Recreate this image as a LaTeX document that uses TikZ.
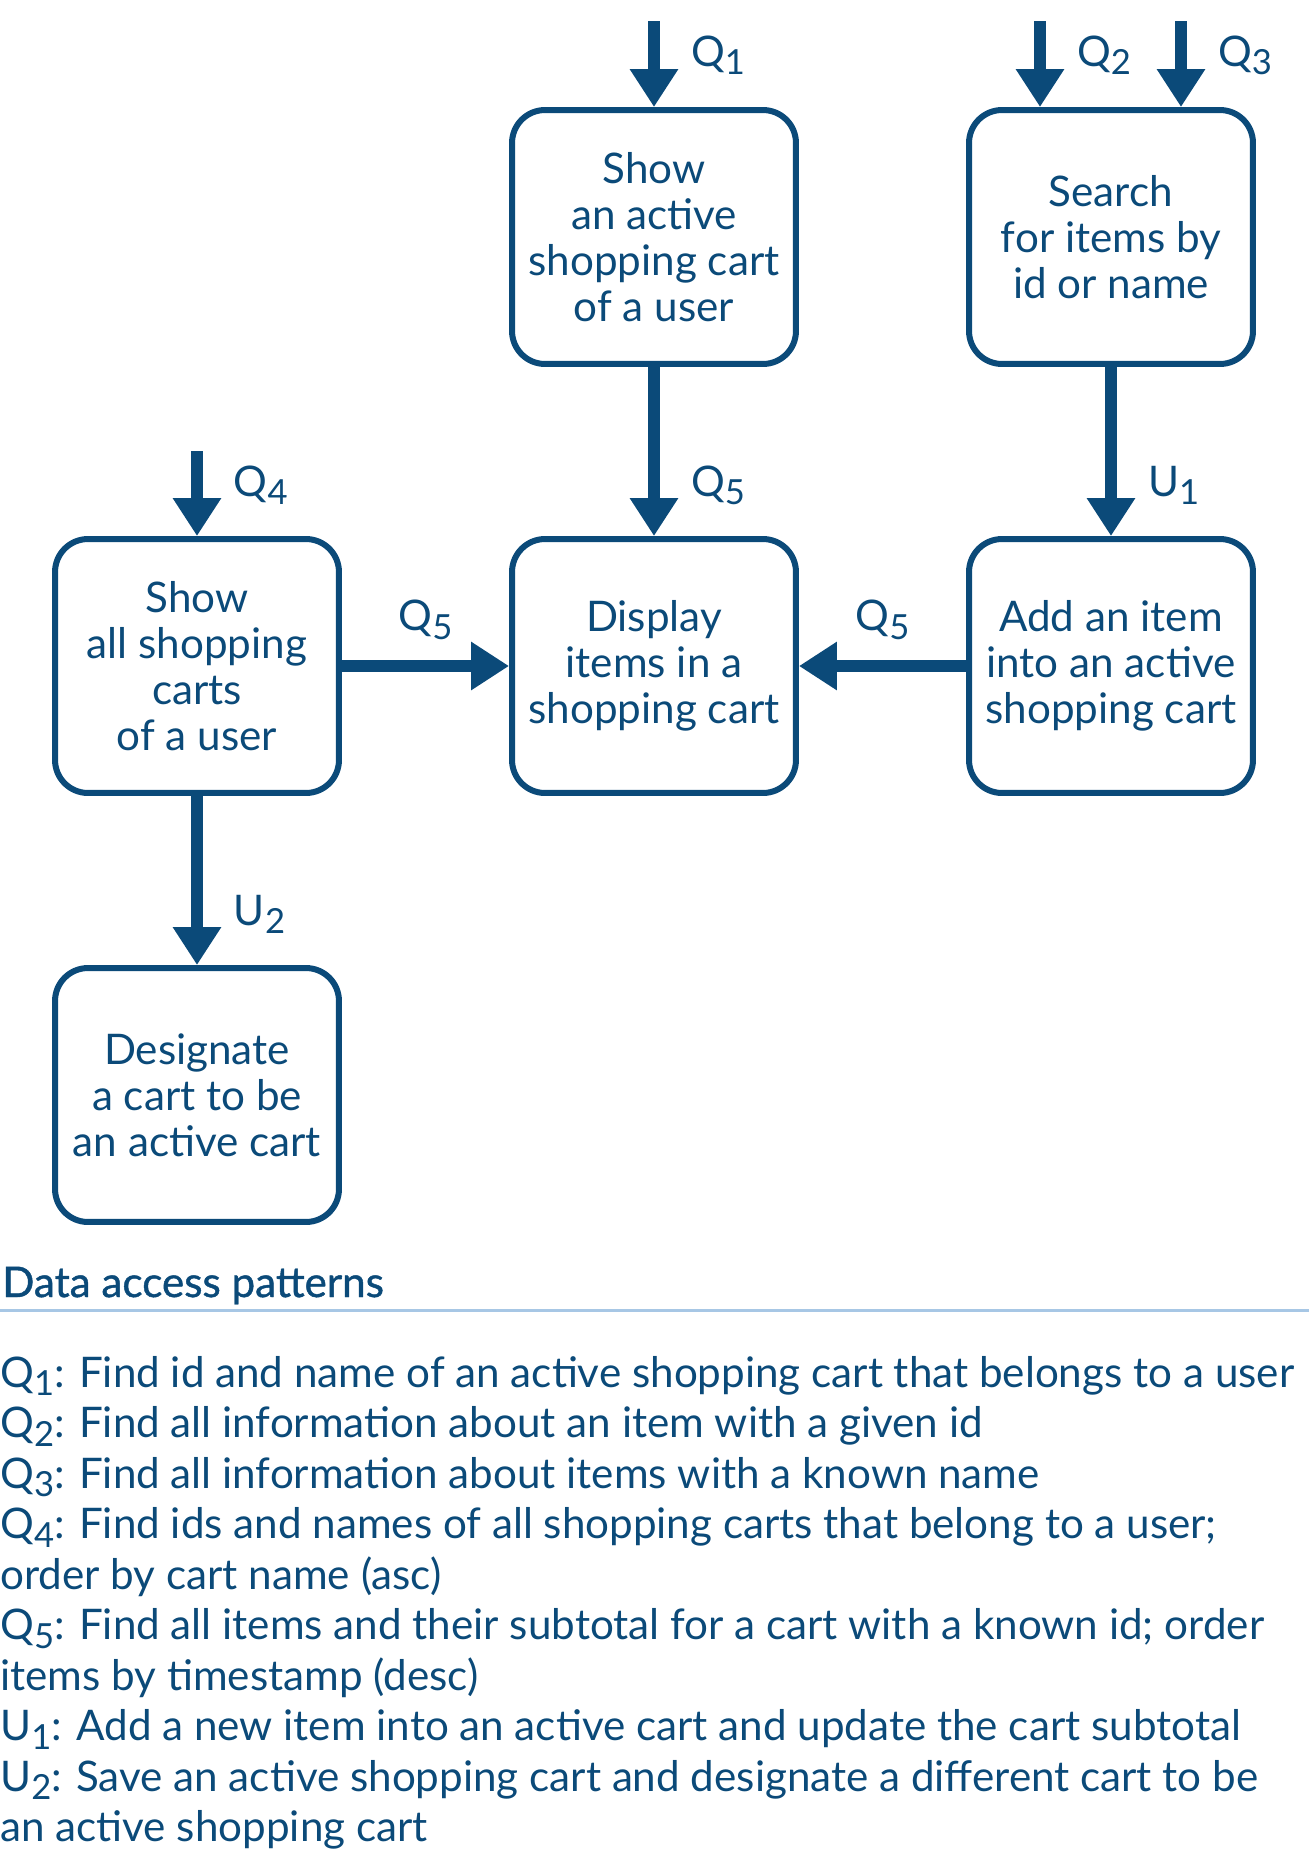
\documentclass[tikz,border=0pt]{standalone}
\usepackage{fontspec}
\setmainfont{Lato}
\newfontfamily\headfont{Lato}[FakeBold=1]
\usepackage{graphicx}
\usetikzlibrary{arrows.meta,positioning,calc}

\definecolor{navy}{HTML}{0B4A79}
\definecolor{rulecol}{HTML}{A7C7E5}
\newcommand{\low}[1]{\raisebox{-0.4ex}{\scalebox{0.82}{#1}}}

\begin{document}
\begin{tikzpicture}[x=0.02cm, y=-0.02cm, text=navy]
	\tikzstyle{box}=[draw=navy, line width=0.12cm, rounded corners=0.66cm, minimum width=5.68cm, minimum height=5.08cm, align=center, font=\fontsize{24}{26.3}\selectfont];
	\tikzstyle{flow}=[draw=navy, line width=0.24cm, -{Triangle[length=0.76cm, width=0.92cm]}];
	\tikzstyle{lbl}=[inner sep=0pt, font=\fontsize{24}{26}\selectfont];
	\tikzstyle{item}=[anchor=base west, inner sep=0pt, font=\fontsize{24}{26}\selectfont];

   \useasboundingbox (0,0) rectangle (1309,1853);

   \node[box] (active) at (654, 237) {Show\\an active\\shopping cart\\of a user};
   \node[box] (search) at (1111, 237) {Search\\for items by\\id or name};
   \node[box] (all) at (197, 666) {Show\\all shopping\\carts\\of a user};
   \node[box] (display) at (654, 666) {Display\\items in a\\shopping cart};
   \node[box] (add) at (1111, 666) {Add an item\\into an active\\shopping cart};
   \node[box] (designate) at (197, 1095) {Designate\\a cart to be\\an active cart};

   \coordinate (q1) at (654, 21);
   \coordinate (q2) at (1040, 21);
   \coordinate (q3) at (1181, 21);
   \coordinate (q4) at (197, 451);

   \draw[flow] (q1) -- (active.north) node[lbl, pos=0.4, anchor=west, xshift=0.62cm] {Q\low{1}};
   \draw[flow] (q2) -- (q2 |- search.north) node[lbl, pos=0.4, anchor=west, xshift=0.62cm] {Q\low{2}};
   \draw[flow] (q3) -- (q3 |- search.north) node[lbl, pos=0.4, anchor=west, xshift=0.62cm] {Q\low{3}};
   \draw[flow] (q4) -- (all.north) node[lbl, pos=0.4, anchor=west, xshift=0.62cm] {Q\low{4}};
   \draw[flow] (active) -- (display) node[lbl, pos=0.7, anchor=west, xshift=0.62cm] {Q\low{5}};
   \draw[flow] (search) -- (add) node[lbl, pos=0.7, anchor=west, xshift=0.62cm] {U\low{1}};
   \draw[flow] (all) -- (display) node[lbl, midway, yshift=0.92cm] {Q\low{5}};
   \draw[flow] (add) -- (display) node[lbl, midway, yshift=0.92cm] {Q\low{5}};
   \draw[flow] (all) -- (designate) node[lbl, pos=0.7, anchor=west, xshift=0.62cm] {U\low{2}};

   % data access patterns
   \node[item, font=\fontsize{24}{26}\headfont] (head) at (2, 1297) {Data access patterns};
   \draw[rulecol, line width=0.06cm] (0, 1310) -- (1309, 1310);

   \node[item] (p1) at (0, 1387) {Q\low{1}: Find id and name of an active shopping cart that belongs to a user};
   \node[item] (p2) at (0, 1437.5) {Q\low{2}: Find all information about an item with a given id};
   \node[item] (p3) at (0, 1488) {Q\low{3}: Find all information about items with a known name};
   \node[item] (p4) at (0, 1538.5) {Q\low{4}: Find ids and names of all shopping carts that belong to a user;};
   \node[item] (p4b) at (0, 1589) {order by cart name (asc)};
   \node[item] (p5) at (0, 1639.5) {Q\low{5}: Find all items and their subtotal for a cart with a known id; order};
   \node[item] (p5b) at (0, 1690) {items by timestamp (desc)};
   \node[item] (u1) at (0, 1740.5) {U\low{1}: Add a new item into an active cart and update the cart subtotal};
   \node[item] (u2) at (0, 1791) {U\low{2}: Save an active shopping cart and designate a different cart to be};
   \node[item] (u2b) at (0, 1841.5) {an active shopping cart};

\end{tikzpicture}
\end{document}
